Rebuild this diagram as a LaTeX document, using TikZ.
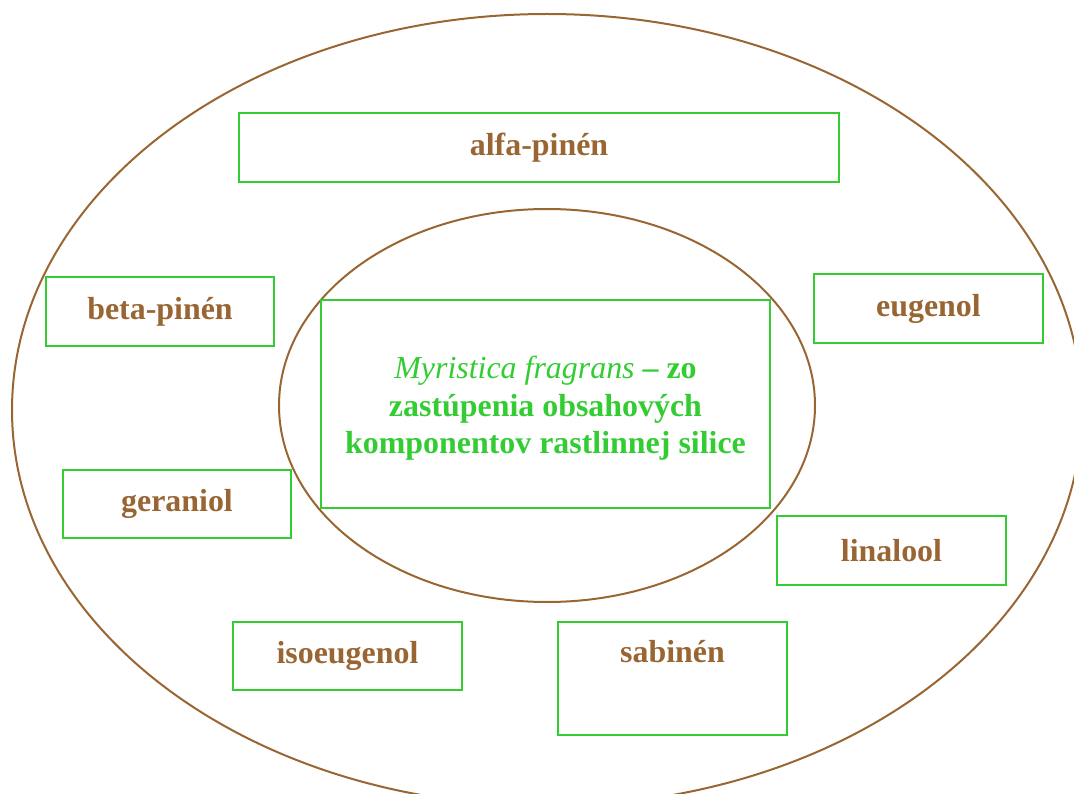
\documentclass[tikz,border=0pt]{standalone}
\usepackage{fontspec}
\setmainfont{Liberation Serif}
\newdimen\pxu
\pxu=0.025cm
\definecolor{nutbrown}{RGB}{153,102,51}
\definecolor{leafgreen}{RGB}{51,204,51}
\begin{document}
\begin{tikzpicture}[x=0.025cm,y=-0.025cm,
    compbox/.style={draw=leafgreen, line width=2\pxu, inner sep=0pt, align=center,
        text=nutbrown, font=\fontsize{22.7}{26.5}\selectfont\bfseries},
    ring/.style={draw=nutbrown, line width=2\pxu}]
        \useasboundingbox (0,0) rectangle (1074,794);
        
        % Outer and inner ellipse
        \draw [ring] (547,410) ellipse (535 and 396);%
        \draw [ring] (547,405.5) ellipse (268 and 196.5);%
        
        % Central box
        \node [compbox, text=leafgreen, minimum width=449\pxu, minimum height=208\pxu] (myristica) at (545.5,404)
            {\rule{0pt}{31\pxu}{\mdseries\itshape Myristica fragrans} -- zo\\zastúpenia obsahových\\komponentov rastlinnej silice};%
        
        % Components around
        \node [compbox, minimum width=600\pxu, minimum height=69\pxu] (alfapinen) at (539,147.5) {alfa-pinén};%
        \node [compbox, minimum width=228\pxu, minimum height=69\pxu] (betapinen) at (160,311.5) {beta-pinén};%
        \node [compbox, minimum width=229\pxu, minimum height=69\pxu] (eugenol) at (928.5,308.5) {eugenol};%
        \node [compbox, minimum width=228\pxu, minimum height=68\pxu] (geraniol) at (177,504) {geraniol};%
        \node [compbox, minimum width=229\pxu, minimum height=69\pxu] (linalool) at (891.5,550.5) {linalool};%
        \node [compbox, minimum width=229\pxu, minimum height=68\pxu] (isoeugenol) at (347.5,656) {isoeugenol};%
        \node [compbox, minimum width=229\pxu, minimum height=113\pxu] (sabinen) at (672.5,678.5) {sabinén\\[6\pxu]\strut};%
    \end{tikzpicture}
\end{document}
